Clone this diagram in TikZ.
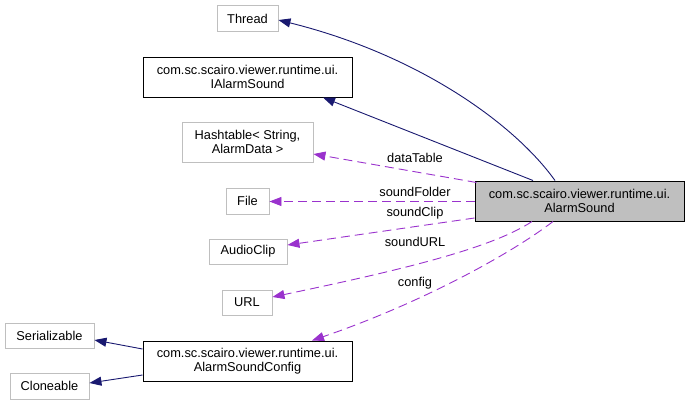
\documentclass[tikz,border=0pt]{standalone}
\usepackage{fontspec}
\setmainfont{Liberation Sans}
\usetikzlibrary{
  arrows.meta,
  calc
}
\definecolor{inheritcolor}{RGB}{25, 25, 112}
\definecolor{usagecolor}{RGB}{154, 50, 205}
\definecolor{extbordercolor}{RGB}{191, 191, 191}
\definecolor{focuscolor}{RGB}{191, 191, 191}
\tikzset{
classtext/.style={
  align=center,
  font=\fontsize{12.8}{14}\selectfont,
  inner sep=0pt
},
extclass/.style={
  draw=extbordercolor,
  line width=0.9pt,
  fill=white,
  classtext
},
docclass/.style={
  draw=black,
  line width=1pt,
  fill=white,
  classtext
},
focusclass/.style={
  docclass,
  fill=focuscolor
},
edgelabel/.style={
  font=\fontsize{12.8}{14}\selectfont,
  inner sep=0pt
},
inheritarrow/.style={
  -{Triangle[length=12pt,width=9pt]},
  line width=0.9pt,
  draw=inheritcolor
},
usagearrow/.style={
  -{Triangle[length=12pt,width=9pt]},
  line width=0.9pt,
  draw=usagecolor,
  dash pattern=on 9pt off 5pt
}
}

\begin{document}
\begin{tikzpicture}[x=1pt, y=-1pt]
  \useasboundingbox (0,0) rectangle (689,405);

  % classes
  \node[extclass, minimum width=61pt, minimum height=26pt] (thread) at (247.5,18.5) {Thread};
  \node[docclass, minimum width=209pt, minimum height=40pt] (ialarm) at (247.5,77) {com.sc.scairo.viewer.runtime.ui.\\IAlarmSound};
  \node[extclass, minimum width=131pt, minimum height=40pt] (hashtable) at (247.5,142) {Hashtable\textless{} String,\\AlarmData \textgreater};
  \node[extclass, minimum width=43pt, minimum height=26pt] (file) at (247.5,201) {File};
  \node[extclass, minimum width=78pt, minimum height=25pt] (audioclip) at (248,251.5) {AudioClip};
  \node[extclass, minimum width=50pt, minimum height=25pt] (url) at (247,302.5) {URL};
  \node[extclass, minimum width=89pt, minimum height=25pt] (serializable) at (49.5,335.5) {Serializable};
  \node[extclass, minimum width=79pt, minimum height=26pt] (cloneable) at (49.5,386) {Cloneable};
  \node[docclass, minimum width=209pt, minimum height=40pt] (config) at (247.5,361) {com.sc.scairo.viewer.runtime.ui.\\AlarmSoundConfig};
  \node[focusclass, minimum width=209pt, minimum height=40pt] (alarmsound) at (579.5,201) {com.sc.scairo.viewer.runtime.ui.\\AlarmSound};

  % inheritance
  \draw[inheritarrow] ([xshift=-24.5pt]alarmsound.north) .. controls +(-40,-56) and +(141,35) .. ([yshift=-1.5pt]thread.east);
  \draw[inheritarrow] ([xshift=-46.5pt]alarmsound.north) -- ([xshift=75.5pt]ialarm.south);
  \draw[inheritarrow] ([yshift=12pt]config.west) -- ([yshift=-4.5pt]serializable.east);
  \draw[inheritarrow] ([yshift=-14pt]config.west) -- ([yshift=3pt]cloneable.east);

  % members
  \draw[usagearrow] ([xshift=2pt,yshift=-2pt]alarmsound.north west) -- ([yshift=-12pt]hashtable.east);
  \draw[usagearrow] ([yshift=-0.5pt]alarmsound.west) -- ([yshift=-0.5pt]file.east);
  \draw[usagearrow] ([yshift=-17pt]alarmsound.west) -- ([yshift=6.5pt]audioclip.east);
  \draw[usagearrow] ([xshift=-47.5pt]alarmsound.south) .. controls +(-42,28) and +(119,-25) .. ([yshift=5.5pt]url.east);
  \draw[usagearrow] ([xshift=-26.5pt]alarmsound.south) .. controls +(-43,33) and +(108,-37) .. ([xshift=64.5pt]config.north);

  % member names
  \node[edgelabel] (lbldatatable) at (415,158) {dataTable};
  \node[edgelabel] (lblsoundfolder) at (415,192) {soundFolder};
  \node[edgelabel] (lblsoundclip) at (415,213) {soundClip};
  \node[edgelabel] (lblsoundurl) at (415,242) {soundURL};
  \node[edgelabel] (lblconfig) at (415,283) {config};
\end{tikzpicture}
\end{document}
